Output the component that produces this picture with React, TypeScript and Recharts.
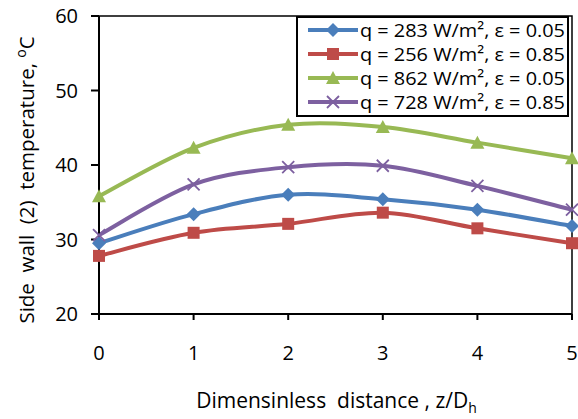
import React from 'react';
import { LineChart, Line, XAxis, YAxis, ReferenceArea } from 'recharts';

const distances = [0, 1, 2, 3, 4, 5];
const s283e005 = [29.5, 33.4, 36.0, 35.4, 34.0, 31.8];
const s256e085 = [27.8, 30.9, 32.1, 33.6, 31.5, 29.5];
const s862e005 = [35.8, 42.3, 45.4, 45.1, 43.0, 40.9];
const s728e085 = [30.6, 37.4, 39.7, 39.9, 37.2, 34.0];
const yTicks = [20, 30, 40, 50, 60];
const seriesNames = [
  'q = 283 W/m², ε = 0.05',
  'q = 256 W/m², ε = 0.85',
  'q = 862 W/m², ε = 0.05',
  'q = 728 W/m², ε = 0.85',
];
const colors = ['#4A7EBB', '#BE4B48', '#98B954', '#7D60A0'];
const markers = ['diamond', 'square', 'triangle', 'cross'];
const keys = ['a', 'b', 'c', 'd'];

const data = distances.map((z, i) => ({
  z,
  a: s283e005[i],
  b: s256e085[i],
  c: s862e005[i],
  d: s728e085[i],
}));

const FONT = '"Open Sans", sans-serif';

// Excel-like smoothed curve (Catmull-Rom style bezier)
function excelCurve(context: any) {
  let pts: number[][] = [];
  return {
    areaStart() {},
    areaEnd() {},
    lineStart() {
      pts = [];
    },
    point(x: number, y: number) {
      pts.push([+x, +y]);
    },
    lineEnd() {
      if (!pts.length) return;
      context.moveTo(pts[0][0], pts[0][1]);
      for (let i = 0; i < pts.length - 1; i++) {
        const p0 = pts[i - 1] || pts[i];
        const p1 = pts[i];
        const p2 = pts[i + 1];
        const p3 = pts[i + 2] || pts[i + 1];
        const c1x = p1[0] + (p2[0] - p0[0]) / 6;
        const c1y = p1[1] + (p2[1] - p0[1]) / 6;
        const c2x = p2[0] - (p3[0] - p1[0]) / 6;
        const c2y = p2[1] - (p3[1] - p1[1]) / 6;
        context.bezierCurveTo(c1x, c1y, c2x, c2y, p2[0], p2[1]);
      }
    },
  };
}

function Marker({ kind, cx, cy, color }: any) {
  if (kind === 'diamond') {
    const r = 7;
    return <path d={`M${cx},${cy - r}L${cx + r},${cy}L${cx},${cy + r}L${cx - r},${cy}Z`} fill={color} />;
  }
  if (kind === 'square') {
    const r = 6;
    return <rect x={cx - r} y={cy - r} width={2 * r} height={2 * r} fill={color} />;
  }
  if (kind === 'triangle') {
    return <path d={`M${cx},${cy - 7}L${cx + 7},${cy + 6}L${cx - 7},${cy + 6}Z`} fill={color} />;
  }
  const r = 6;
  return (
    <path
      d={`M${cx - r},${cy - r}L${cx + r},${cy + r}M${cx - r},${cy + r}L${cx + r},${cy - r}`}
      stroke={color}
      strokeWidth={1.8}
      fill="none"
    />
  );
}

const makeDot = (idx: number) => (props: any) => {
  const { cx, cy, index } = props;
  if (cx == null || cy == null) return <g key={`n${idx}-${index}`} />;
  return (
    <g key={`m${idx}-${index}`}>
      <Marker kind={markers[idx]} cx={cx} cy={cy} color={colors[idx]} />
    </g>
  );
};

function LegendBox() {
  const rows = [30, 54, 78, 102];
  return (
    <svg
      width={274}
      height={104}
      style={{ position: 'absolute', left: 295, top: 15 }}
    >
      <rect x={2} y={2} width={271} height={99} fill="#fff" stroke="#000" strokeWidth={2} />
      {seriesNames.map((name, i) => {
        const cy = rows[i] - 15;
        return (
          <g key={name}>
            <line x1={13} x2={63} y1={cy} y2={cy} stroke={colors[i]} strokeWidth={4} />
            <Marker kind={markers[i]} cx={38} cy={cy} color={colors[i]} />
            <text
              x={65}
              y={cy + 7}
              fontFamily={FONT}
              fontSize={19}
              fill="#000"
              textLength={205}
              lengthAdjust="spacingAndGlyphs"
            >
              {name}
            </text>
          </g>
        );
      })}
    </svg>
  );
}

export default function App() {
  return (
    <div style={{ position: 'absolute', left: 0, top: 0, width: 578, height: 419, background: '#fff' }}>
      <LineChart
        width={578}
        height={419}
        data={data}
        margin={{ top: 16, right: 6, bottom: 45, left: 0 }}
      >
        <XAxis
          dataKey="z"
          type="number"
          domain={[0, 5]}
          ticks={distances}
          tickSize={6}
          tickMargin={26}
          height={60}
          stroke="#000"
          strokeWidth={2}
          tick={{ fill: '#000', fontSize: 20, fontFamily: FONT }}
          label={(props: any) => {
            const vb = props.viewBox;
            return (
              <text
                x={vb.x + vb.width / 2 + 1}
                y={vb.y + 94}
                textAnchor="middle"
                fontFamily={FONT}
                fontSize={21}
                fill="#000"
                style={{ whiteSpace: 'pre' }}
              >
                {'Dimensinless  distance , z/D'}
                <tspan fontSize={14} dy={5}>h</tspan>
              </text>
            );
          }}
        />
        <YAxis
          type="number"
          domain={[20, 60]}
          ticks={yTicks}
          width={99}
          tickSize={8}
          tickMargin={13}
          stroke="#000"
          strokeWidth={2}
          tick={{ fill: '#000', fontSize: 20, fontFamily: FONT }}
          label={(props: any) => {
            const vb = props.viewBox;
            const cx = 34;
            const cy = vb.y + vb.height / 2 + 15;
            return (
              <text
                x={cx}
                y={cy}
                transform={`rotate(-90, ${cx}, ${cy})`}
                textAnchor="middle"
                fontFamily={FONT}
                fontSize={20.5}
                fill="#000"
                style={{ whiteSpace: 'pre' }}
              >
                {'Side  wall  (2)  temperature, '}
                <tspan fontSize={14} dy={-8}>o</tspan>
                <tspan dy={8}>C</tspan>
              </text>
            );
          }}
        />
        <ReferenceArea x1={0} x2={5} y1={20} y2={60} fill="none" stroke="#000" strokeWidth={1.5} />
        {keys.map((k, i) => (
          <Line
            key={k}
            dataKey={k}
            name={seriesNames[i]}
            type={excelCurve as any}
            stroke={colors[i]}
            strokeWidth={4}
            dot={makeDot(i)}
            activeDot={false}
            isAnimationActive={false}
          />
        ))}
      </LineChart>
      <LegendBox />
    </div>
  );
}
